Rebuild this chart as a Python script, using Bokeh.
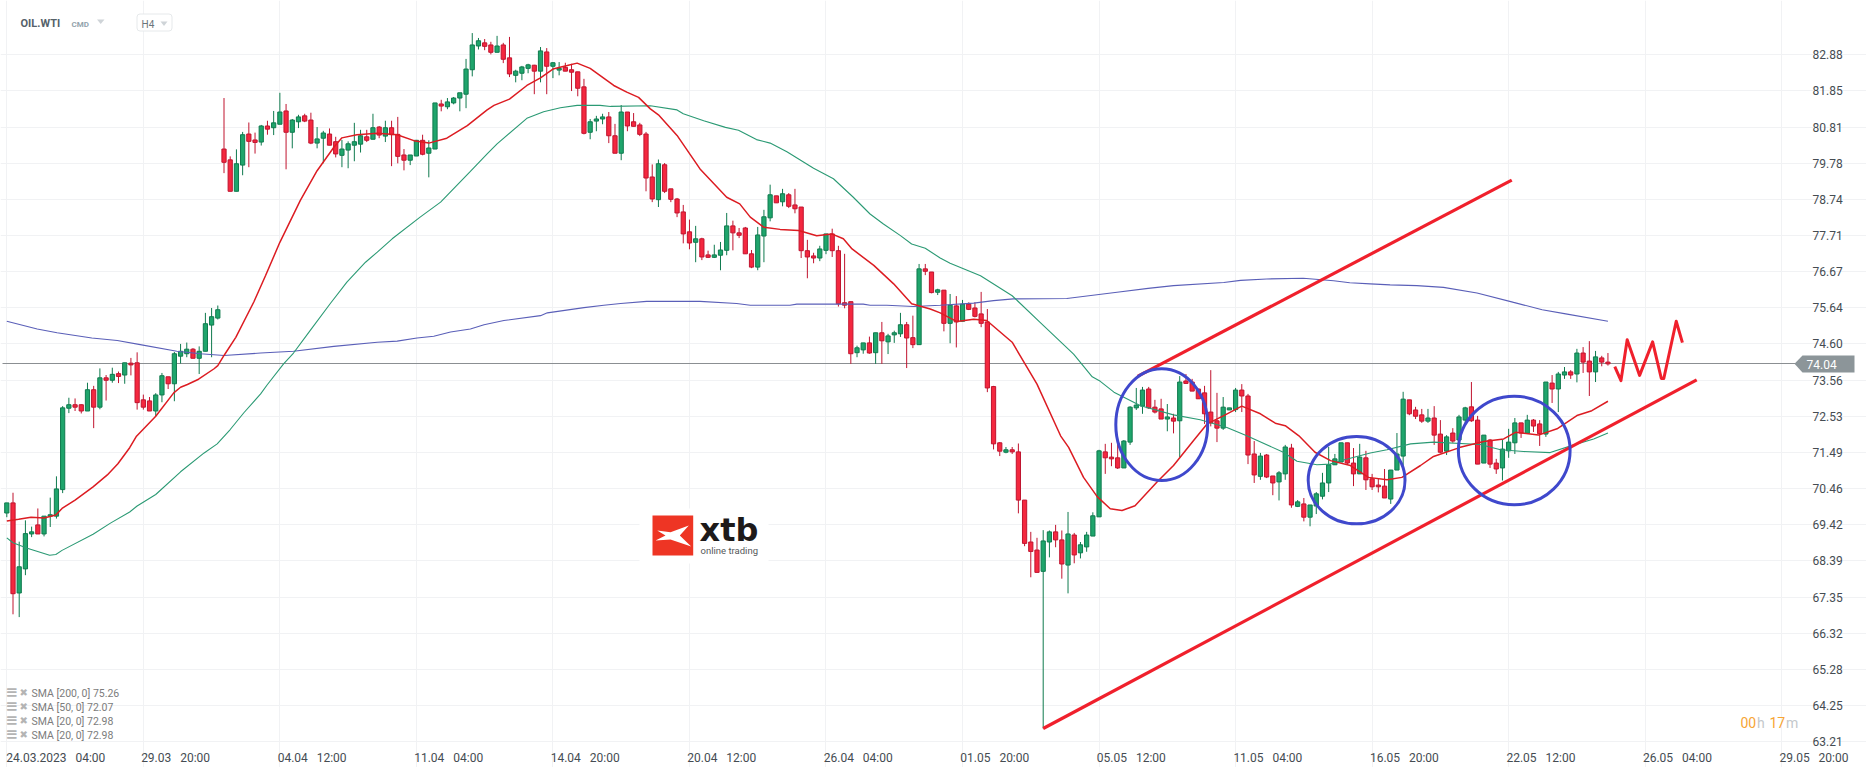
from bokeh.embed import file_html
from bokeh.models import BoxAnnotation, ColumnDataSource, FixedTicker, Label, PolyAnnotation, Range1d
from bokeh.plotting import figure
from bokeh.resources import INLINE

opens = [
    69.76,70.05,67.47,68.16,69.16,69.42,69.16,69.67,69.67,70.43,
    72.76,72.86,72.86,72.68,73.29,72.79,73.63,73.56,73.75,73.71,
    74.05,74.06,73.00,72.97,72.68,73.14,73.66,73.46,74.25,74.32,
    74.45,74.19,74.39,75.14,75.34,80.18,79.87,78.97,79.72,80.61,
    80.44,80.38,80.84,80.79,80.89,81.27,80.66,80.96,81.13,81.01,
    80.35,80.49,80.61,80.39,80.00,80.15,80.29,80.32,80.53,80.46,
    80.81,80.55,80.79,80.60,80.01,79.86,79.98,80.43,80.06,80.18,
    81.47,81.39,81.50,81.64,81.75,82.45,83.13,83.22,83.16,82.95,
    83.16,82.79,82.29,82.35,82.49,82.58,82.41,82.96,82.55,82.44,
    82.52,82.45,82.39,81.96,80.66,80.98,81.04,81.10,80.56,80.06,
    81.24,80.96,80.87,80.61,79.38,78.73,79.73,79.04,78.75,78.38,
    77.81,77.51,77.61,77.15,77.08,77.14,77.28,77.98,77.78,77.92,
    77.18,76.80,77.69,78.21,78.84,78.67,78.87,78.58,78.52,77.27,
    77.12,77.06,77.28,77.75,77.27,75.78,75.81,74.35,74.43,74.63,
    74.35,74.92,74.66,74.86,74.89,75.15,74.78,74.58,76.75,76.66,
    76.08,76.14,75.19,75.69,75.25,75.74,75.63,75.46,75.23,73.38,
    71.77,71.50,71.57,71.51,70.13,68.93,68.70,68.09,68.93,69.22,
    68.99,68.27,69.13,68.62,68.79,69.10,69.65,71.51,71.36,71.34,
    71.05,71.79,72.77,72.82,73.31,72.79,72.74,72.45,72.48,72.40,
    73.54,73.51,73.31,73.20,72.65,72.40,72.19,72.71,72.72,73.28,
    73.11,71.45,70.81,71.42,70.82,70.65,70.88,71.62,69.95,70.02,
    69.64,69.96,70.24,70.62,71.14,71.22,71.77,71.19,70.88,71.34,
    70.74,70.56,70.53,70.16,70.99,71.39,73.00,72.71,72.57,72.39,
    72.48,72.02,71.53,72.05,71.85,72.42,72.80,72.42,71.19,71.85,
    71.19,71.05,71.54,71.77,72.34,72.04,72.42,72.31,72.02,73.48,
    73.31,73.71,73.80,73.74,74.34,74.11,73.80,74.20,74.08,
]
highs = [
    70.05,70.34,68.94,69.55,69.37,69.89,69.67,70.20,70.81,72.82,
    73.06,73.04,72.87,73.49,73.40,73.90,73.71,73.92,73.81,74.06,
    74.20,74.36,73.15,73.08,73.19,73.77,73.66,74.37,74.60,74.64,
    74.48,74.53,75.49,75.63,75.70,81.64,79.97,80.17,80.67,80.94,
    80.65,80.87,80.99,81.27,81.79,81.47,81.04,81.16,81.19,81.22,
    80.81,80.70,80.77,80.53,80.44,80.40,80.93,80.73,80.73,81.19,
    80.84,80.99,80.99,81.10,80.18,80.01,80.44,80.59,80.43,81.50,
    81.59,81.64,81.67,81.79,82.76,83.50,83.36,83.33,83.25,83.42,
    83.22,83.39,82.45,82.56,82.62,82.59,83.10,83.07,82.67,82.67,
    82.65,82.62,82.39,82.19,81.04,81.13,81.19,81.24,80.90,81.44,
    81.24,81.21,80.93,80.67,79.74,79.88,79.78,79.04,78.78,78.58,
    78.16,77.98,77.64,77.27,77.44,77.52,78.35,78.13,77.92,77.95,
    77.29,77.95,78.44,79.16,78.84,79.04,78.92,79.04,78.52,77.58,
    77.21,77.41,77.75,77.90,77.41,77.18,75.81,74.55,74.63,74.81,
    74.92,75.23,74.89,74.98,75.49,75.23,75.41,76.89,76.89,76.66,
    76.18,76.14,76.03,75.97,75.86,75.79,75.79,76.09,75.60,73.40,
    71.79,71.65,71.65,71.75,70.13,69.22,69.05,69.27,69.26,69.42,
    69.26,69.79,69.19,68.93,69.22,69.78,71.57,71.74,71.77,71.79,
    71.85,72.82,73.34,73.37,73.37,73.00,73.03,72.88,72.60,73.68,
    73.74,73.60,73.31,73.40,73.85,73.20,73.08,72.77,73.34,73.45,
    73.17,71.82,71.48,71.45,70.82,70.96,71.71,71.74,70.13,70.19,
    69.99,70.36,70.91,71.65,71.45,71.77,71.77,71.62,71.74,71.54,
    70.88,70.74,71.02,70.99,72.05,73.23,73.00,72.80,72.74,72.74,
    72.82,72.42,71.99,72.19,72.57,72.80,73.51,72.54,71.99,71.88,
    71.31,71.85,72.17,72.48,72.34,72.57,72.45,72.42,73.51,73.71,
    73.80,73.94,73.85,74.46,74.51,74.68,74.40,74.26,74.34,
]
lows = [
    69.64,66.86,66.78,67.98,69.07,69.16,69.09,69.36,69.60,70.33,
    72.62,72.68,72.61,72.68,72.19,72.73,72.98,73.49,73.48,73.46,
    73.70,72.72,72.72,72.68,72.53,72.93,73.31,72.96,74.04,74.22,
    74.19,73.74,74.39,74.22,75.30,79.49,78.97,78.97,79.43,79.66,
    80.05,80.28,80.59,80.58,80.89,79.60,80.20,80.78,80.95,80.32,
    80.20,79.77,80.29,79.94,79.66,79.63,79.83,80.08,80.38,80.46,
    80.49,80.38,79.69,79.77,79.57,79.72,79.98,80.00,79.37,80.18,
    81.26,81.32,81.46,81.26,81.35,82.26,83.03,83.01,82.89,82.95,
    82.64,82.24,82.09,82.15,82.35,81.75,82.09,81.75,82.21,82.29,
    82.41,81.84,81.69,80.60,80.46,80.69,80.89,80.35,80.06,79.86,
    80.69,80.83,80.55,78.97,78.66,78.52,78.92,78.66,78.23,77.48,
    77.31,76.94,77.00,77.06,77.06,76.71,77.14,77.28,77.63,77.18,
    76.77,76.71,76.94,78.11,78.64,78.54,78.49,78.34,77.06,76.48,
    76.91,76.97,77.17,77.09,75.67,75.62,74.03,74.22,74.32,74.32,
    74.03,74.03,74.31,74.63,74.80,73.91,74.48,74.58,76.57,76.05,
    76.00,74.96,74.62,74.50,75.25,75.57,75.36,75.08,73.22,71.58,
    71.39,71.47,71.45,69.75,68.81,67.92,68.06,63.59,68.49,68.78,
    67.88,67.46,68.32,68.46,68.65,69.10,69.65,70.88,71.10,71.02,
    71.05,71.71,72.71,72.60,72.74,72.61,72.45,72.10,72.04,71.36,
    73.47,73.25,73.03,72.31,72.24,71.79,72.14,72.71,72.65,72.65,
    71.16,70.62,70.71,70.76,70.27,70.12,70.71,69.91,69.93,69.52,
    69.38,69.73,70.15,70.36,71.14,71.22,71.16,70.53,70.88,70.42,
    70.42,70.35,70.19,70.02,70.99,71.07,72.56,72.45,72.34,72.34,
    71.71,71.47,71.42,71.77,71.74,72.28,72.37,71.16,71.19,71.05,
    70.88,70.69,71.34,71.45,71.91,72.04,72.08,71.68,71.94,72.91,
    72.65,73.60,73.60,73.50,73.77,73.11,73.51,73.96,73.98,
]
closes = [
    70.05,67.45,68.22,69.17,69.22,69.16,69.67,69.71,70.45,72.77,
    72.86,72.79,72.68,73.29,72.79,73.63,73.56,73.73,73.67,74.06,
    74.00,72.92,72.79,72.68,73.14,73.69,73.46,74.32,74.39,74.45,
    74.19,74.39,75.18,75.38,75.58,79.80,78.97,79.76,80.59,80.40,
    80.37,80.84,80.75,80.93,81.24,80.66,81.01,81.10,80.98,80.35,
    80.47,80.64,80.29,80.04,80.18,80.33,80.39,80.56,80.43,80.79,
    80.58,80.79,80.59,79.97,79.86,80.01,80.43,80.03,80.21,81.50,
    81.41,81.53,81.64,81.79,82.47,83.16,83.28,83.12,82.95,83.13,
    82.75,82.33,82.41,82.53,82.59,82.41,82.99,82.55,82.65,82.49,
    82.41,82.38,81.92,80.63,80.96,81.04,81.10,80.56,80.06,81.24,
    80.84,80.83,80.60,79.35,78.75,79.76,78.97,78.74,78.35,77.75,
    77.49,77.61,77.09,77.08,77.15,77.29,77.98,77.78,77.71,77.18,
    76.80,77.72,78.24,78.87,78.64,78.90,78.54,78.47,77.27,77.09,
    77.06,77.32,77.75,77.27,75.75,75.71,74.32,74.49,74.63,74.34,
    74.92,74.69,74.83,74.92,75.15,74.77,74.58,76.75,76.68,76.07,
    76.15,75.19,75.71,75.23,75.74,75.59,75.39,75.19,73.34,71.74,
    71.53,71.57,71.51,70.13,68.89,68.66,68.06,68.96,69.22,68.99,
    68.30,69.16,68.56,68.85,69.13,69.68,71.54,71.34,71.31,71.05,
    71.82,72.79,72.85,73.28,72.77,72.65,72.45,72.51,72.39,73.51,
    73.47,73.25,73.03,72.60,72.34,72.19,72.79,72.77,73.28,73.11,
    71.42,70.85,71.39,70.79,70.62,70.91,71.65,69.99,70.08,69.64,
    69.99,70.31,70.62,71.14,71.31,71.77,71.19,70.88,71.36,70.71,
    70.51,70.51,70.19,70.99,71.45,73.02,72.60,72.53,72.39,72.48,
    71.99,71.50,71.94,71.82,72.51,72.77,72.40,71.16,71.99,71.16,
    71.02,71.59,71.79,72.34,72.05,72.42,72.25,72.03,73.51,73.31,
    73.74,73.80,73.71,74.34,74.08,73.80,74.23,74.08,74.03,
]

sma20_bar = [0,1.9,3.9,6,7.9,8.9,11,13.9,16.2,17.9,19.8,20.9,24,26.9,28,29.1,30.9,33.4,34,35,36.9,39.8,41.7,44,47.3,50,52.7,54,
    56.4,59.7,62.9,65.6,68,70.9,74.2,77.4,78.5,81,83.8,86,88,90.3,91.9,94,97.8,99.9,101.8,103.7,105,108,111.7,116,118.1,119.8,
    122,124.6,127.6,130.5,132.9,134.8,136.2,139.7,142.9,145.8,148.8,150.4,153.1,155.8,157.9,162,164.4,166,169.8,171.1,173.5,
    175.7,177.8,179.7,181.8,185.3,188,191.2,193.4,196.1,199,202,204.4,206,208.2,210.8,213.3,216.5,219.4,222.4,224.8,227.8,
    229.9,234.2,238,241.2,243.1,246.8,249.8,253,255.4,258]
sma20_val = [69.53,69.58,69.64,69.62,69.70,69.89,70.13,70.51,70.85,71.17,71.63,71.96,72.53,73.20,73.36,73.44,73.59,73.89,73.98,74.27,
    74.79,75.80,76.56,77.51,78.71,79.56,80.23,80.50,80.59,80.63,80.59,80.42,80.35,80.49,80.85,81.30,81.43,81.61,82.00,82.22,
    82.47,82.57,82.64,82.49,82.00,81.81,81.66,81.33,81.16,80.57,79.61,78.80,78.61,78.23,77.94,77.88,77.85,77.70,77.75,77.61,
    77.32,76.85,76.32,75.75,75.60,75.49,75.24,75.31,75.27,74.65,73.93,73.45,71.97,71.64,70.78,70.23,69.88,69.83,69.97,70.64,
    71.12,71.83,72.31,72.55,72.82,72.60,72.33,72.26,71.97,71.50,71.26,71.12,70.78,70.71,70.78,71.12,71.38,71.64,71.81,71.88,
    72.07,71.99,72.17,72.55,72.69,72.96]
sma50_bar = [0,1,3.3,6.9,7.9,8.9,13.9,16.7,19.8,21,24,28,31.8,33.9,36,38.2,40.9,42,44.6,46.2,48.9,52.1,54.8,57.8,59.7,62.1,66.6,69.9,
    74.7,77.4,79,83.8,86.5,89.2,91.9,95.6,97.3,103.7,108,109,112.3,115.8,117.9,120.8,123,125.7,130,133.2,136.4,139.1,141.2,144,
    145.8,148,150.4,152,156.9,162,166.5,171.9,174.9,176.2,178.4,182.7,188,192.3,196.6,199.8,205.7,207.9,211.1,213.2,215.4,
    219.7,222.4,226.2,229.9,237.4,240.7,244.4,248.7,252.5,255.7,258]
sma50_val = [69.05,68.91,68.75,68.55,68.57,68.69,69.15,69.47,69.79,69.96,70.29,70.94,71.48,71.74,72.15,72.63,73.17,73.44,74.03,74.34,
    74.99,75.75,76.37,76.94,77.23,77.61,78.23,78.66,79.54,80.04,80.33,81.06,81.25,81.36,81.43,81.43,81.40,81.42,81.30,81.19,
    80.99,80.80,80.72,80.45,80.35,80.10,79.63,79.33,78.80,78.32,78.04,77.70,77.46,77.34,77.06,76.91,76.55,75.98,75.22,74.31,
    73.66,73.53,73.22,72.83,72.57,72.43,72.21,71.97,71.50,71.24,71.14,71.16,71.28,71.48,71.57,71.74,71.79,71.72,71.57,71.52,
    71.49,71.71,71.88,72.05]
sma200_bar = [0,4.9,8.1,13.7,17.8,21.5,27.4,31.2,35,40.9,46.2,52.7,59.7,62.9,66.1,68.8,71.5,74.7,76.9,80.1,86,87.1,93,96.2,98.9,103.1,
    111.7,117.6,119.8,126.2,127.3,138,139.1,141.8,146.1,150.4,155.8,159,162.2,170.8,178.9,183.9,188,196.1,198.8,203,208.9,
    213.8,216.4,219.7,222.9,227.2,231.5,236.9,242.8,247.4,251.2,258]
sma200_val = [75.25,75.03,74.92,74.77,74.70,74.58,74.39,74.32,74.27,74.34,74.39,74.53,74.65,74.68,74.77,74.82,74.94,75.03,75.15,75.27,
    75.41,75.49,75.64,75.71,75.76,75.82,75.82,75.76,75.71,75.71,75.74,75.74,75.71,75.71,75.67,75.71,75.77,75.84,75.89,75.90,
    76.08,76.19,76.27,76.36,76.42,76.46,76.48,76.41,76.35,76.32,76.29,76.27,76.22,76.06,75.79,75.58,75.46,75.25]

# hand drawn things on top of the chart
trend_low_bar = [167.0, 272.3]
trend_low_val = [63.59, 73.57]
trend_high_bar = [182.2, 242.5]
trend_high_val = [73.67, 79.29]
zigzag_bar = [259.1,260.1,261.1,263.1,265.2,266.6,267.0,269.0,270.0]
zigzag_val = [73.95,73.55,74.72,73.70,74.66,73.61,73.61,75.25,74.64]
circle_bar = [186.1, 217.5, 242.9]
circle_val = [72.29, 70.70, 71.55]
circle_w = [14.8, 15.6, 18.0]
circle_h = [3.2, 2.5, 3.11]

price_ticks = [82.88,81.85,80.81,79.78,78.74,77.71,76.67,75.64,74.60,73.56,72.53,71.49,70.46,69.42,68.39,67.35,66.32,65.28,64.25,63.21]
date_ticks = [0,22,44,66,88,110,132,154,176,198,220,242,264,286]
date_labels = ["24.03.2023","29.03","04.04","11.04","14.04","20.04","26.04","01.05","05.05","11.05","16.05","22.05","26.05","29.05"]
time_labels = ["04:00","20:00","12:00","04:00","20:00","12:00","04:00","20:00","12:00","04:00","20:00","12:00","04:00","20:00"]
last_price = 74.04
sma_legend = ["SMA [200, 0] 75.26","SMA [50, 0] 72.07","SMA [20, 0] 72.98","SMA [20, 0] 72.98"]

# page pixels of the screenshot <-> data, only used to place the furniture
def bx(px):
    return (px - 6.3) / 6.206

def py(y):
    return 63.21 + (741.3 - y) / 34.93

GREEN, GREEN_D = "#1fa56c", "#0f7a4e"
RED, RED_D = "#f4283f", "#c0142f"
FONT = "Roboto"
GAP = "\u00a0\u00a0\u00a0"

# the frame fills the whole page, annotations outside of it get clipped.
# axes then sit on the page edge and the negative standoff pulls their labels back in
p = figure(width=1866, height=767, frame_width=1866, frame_height=767, output_backend="svg", toolbar_location=None,
           x_range=Range1d(bx(0), bx(1866)), y_range=Range1d(py(767), py(0)), y_axis_location="right",
           min_border=0, outline_line_color=None, background_fill_color="white")

# labels start at the grid line, bokeh centres them, so the label ticks sit half a label to the right
label_ticks = [t + (7.9 if t == 0 else 5.2) for t in date_ticks]
p.xaxis.ticker = FixedTicker(ticks=label_ticks)
p.xaxis.major_label_overrides = {t: d + GAP + h for t, d, h in zip(label_ticks, date_labels, time_labels)}
p.yaxis.ticker = FixedTicker(ticks=price_ticks)
p.yaxis.major_label_overrides = {t: f"{t:.2f}" for t in price_ticks}
for ax in (p.xaxis[0], p.yaxis[0]):
    ax.axis_line_color = None
    ax.major_tick_line_color = None
    ax.minor_tick_line_color = None
    ax.major_label_text_font = FONT
    ax.major_label_text_font_size = "12px"
    ax.major_label_text_color = "#454c52"
p.xaxis.major_label_standoff = -23
p.yaxis.major_label_standoff = -60
p.xgrid.ticker = FixedTicker(ticks=date_ticks)
p.xgrid.bounds = (py(742), py(18))
p.ygrid.ticker = FixedTicker(ticks=price_ticks)
p.ygrid.bounds = (bx(2), bx(1803))
p.grid.grid_line_color = "#f1f2f4"
p.grid.grid_line_width = 1

p.line([bx(2), bx(1803)], [last_price, last_price], line_color="#8b8f92", line_width=1)

# xtb logo sits under the candles, with a white patch that cuts the grid
p.quad(left=bx(639), right=bx(768), bottom=py(563), top=py(508), color="white", line_color=None)
p.quad(left=bx(652), right=bx(692.7), bottom=py(555), top=py(515), color="#ee3524", line_color=None)
p.patch(x=[bx(656.7), bx(670), bx(688.3), bx(679.3), bx(690.7), bx(670), bx(655), bx(665)],
        y=[py(530), py(531.7), py(525), py(535), py(546), py(539), py(540), py(535)], color="white", line_color=None)
p.add_layout(Label(x=bx(699), y=py(529.5), text="xtb", text_font="DejaVu Sans", text_font_style="bold", text_font_size="32px",
                   text_color="#1d1a1a", text_baseline="middle"))
p.add_layout(Label(x=bx(700), y=py(549.5), text="online trading", text_font=FONT, text_font_size="9.5px",
                   text_color="#55585a", text_baseline="middle"))

up = [c >= o for o, c in zip(opens, closes)]
bars = ColumnDataSource(data=dict(
    i=list(range(len(opens))), high=highs, low=lows,
    top=[max(o, c) for o, c in zip(opens, closes)],
    bottom=[min(o, c) for o, c in zip(opens, closes)],
    fill=[GREEN if u else RED for u in up],
    edge=[GREEN_D if u else RED_D for u in up],
))
p.segment(x0="i", y0="low", x1="i", y1="high", line_color="edge", line_width=1, source=bars)
p.vbar(x="i", top="top", bottom="bottom", width=0.68, fill_color="fill", line_color="edge", line_width=1, source=bars)

p.line(sma200_bar, sma200_val, line_color="#5a5fb8", line_width=1.1)
p.line(sma50_bar, sma50_val, line_color="#2b9a74", line_width=1.1)
p.line(sma20_bar, sma20_val, line_color="#dc1c22", line_width=1.5)

p.line(trend_low_bar, trend_low_val, line_color="#f0202c", line_width=3.2)
p.line(trend_high_bar, trend_high_val, line_color="#f0202c", line_width=3.2)
p.line(zigzag_bar, zigzag_val, line_color="#f0202c", line_width=3, line_join="round")
p.ellipse(x=circle_bar, y=circle_val, width=circle_w, height=circle_h, fill_color=None, line_color="#3f48cc", line_width=3)

# last price tag in the axis
p.add_layout(PolyAnnotation(xs=[bx(1794), bx(1802), bx(1854), bx(1854), bx(1802)],
                            ys=[py(363.3), py(355), py(355), py(372), py(372)],
                            fill_color="#8c9599", fill_alpha=1, line_color=None))
p.add_layout(Label(x=bx(1806), y=py(364), text=f"{last_price:.2f}", text_font=FONT, text_font_size="12px",
                   text_color="white", text_baseline="middle"))

# instrument header
p.add_layout(Label(x=bx(20), y=py(23), text="OIL.WTI", text_font=FONT, text_font_style="bold", text_font_size="11px",
                   text_color="#55616a", text_baseline="middle"))
p.add_layout(Label(x=bx(71), y=py(23.5), text="CMD", text_font=FONT, text_font_style="bold", text_font_size="8px",
                   text_color="#93a3ac", text_baseline="middle"))
p.add_layout(PolyAnnotation(xs=[bx(96.5), bx(104), bx(100.2)], ys=[py(19), py(19), py(23.5)],
                            fill_color="#cfd4d8", fill_alpha=1, line_color=None))
p.add_layout(BoxAnnotation(left=bx(136.5), right=bx(171.5), top=py(13.5), bottom=py(30.5), border_radius=3,
                           fill_color="white", fill_alpha=1, line_color="#e6e9eb", line_width=1, line_alpha=1))
p.add_layout(Label(x=bx(141), y=py(24), text="H4", text_font=FONT, text_font_size="10px",
                   text_color="#6b757c", text_baseline="middle"))
p.add_layout(PolyAnnotation(xs=[bx(160), bx(167), bx(163.5)], ys=[py(21), py(21), py(25.5)],
                            fill_color="#cfd4d8", fill_alpha=1, line_color=None))

# indicator list bottom left
for row, txt in enumerate(sma_legend):
    y = 691.5 + 14 * row
    p.add_layout(Label(x=bx(5), y=py(y), text="\u2261", text_font="DejaVu Sans", text_font_style="bold", text_font_size="15px",
                       text_color="#b4b4b4", text_baseline="middle"))
    p.add_layout(Label(x=bx(19), y=py(y), text="\u2716", text_font="DejaVu Sans", text_font_size="10px",
                       text_color="#b4b4b4", text_baseline="middle"))
    p.add_layout(Label(x=bx(31), y=py(y + 1.5), text=txt, text_font=FONT, text_font_size="10.5px",
                       text_color="#7c7c7c", text_baseline="middle"))

# candle countdown
for px, txt, col in [(1740, "00", "#f7a534"), (1756.5, "h", "#c4c8cb"), (1769, "17", "#f7a534"), (1785.5, "m", "#c4c8cb")]:
    p.add_layout(Label(x=bx(px), y=py(722), text=txt, text_font=FONT, text_font_size="14px",
                       text_color=col, text_baseline="middle"))

open("out.html", "w").write(file_html(p, INLINE))
